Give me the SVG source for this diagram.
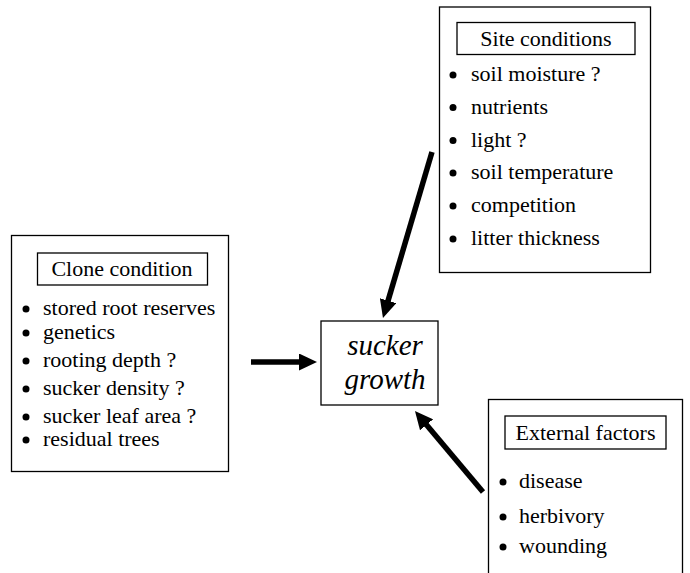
<svg xmlns="http://www.w3.org/2000/svg" width="690" height="573" viewBox="0 0 690 573">
<style>
.box{fill:#fff;stroke:#000;stroke-width:1.3}
.t{font-size:22px;fill:#000}
.it{font-size:29px;font-style:italic;fill:#000}
.b{fill:#000}
.arr{stroke:#000;stroke-width:5.5;fill:none;marker-end:url(#ah)}
</style>
<defs>
<marker id="ah" markerUnits="userSpaceOnUse" markerWidth="18" markerHeight="17" refX="8" refY="8.5" orient="auto">
<path d="M0,0 L18,8.5 L0,17 z" fill="#000"/>
</marker>
</defs>
<rect width="690" height="573" fill="#fff"/>
<g id="connectors">
<line class="arr" x1="251" y1="362" x2="307" y2="362"/>
<line class="arr" x1="432" y1="152" x2="385.8" y2="308.4"/>
<line class="arr" x1="483" y1="492" x2="421.4" y2="418.7"/>
</g>
<g font-family="Liberation Serif, Times New Roman, serif">
<g id="clone">
<rect class="box" x="11.5" y="235.5" width="217" height="236"/>
<rect class="box" x="37.5" y="253" width="170" height="32"/>
<text class="t" x="122" y="276" text-anchor="middle">Clone condition</text>
<circle class="b" cx="26" cy="309" r="3.5"/><text class="t" x="43" y="315">stored root reserves</text>
<circle class="b" cx="26" cy="333" r="3.5"/><text class="t" x="43" y="339">genetics</text>
<circle class="b" cx="26" cy="361" r="3.5"/><text class="t" x="43" y="367">rooting depth ?</text>
<circle class="b" cx="26" cy="389" r="3.5"/><text class="t" x="43" y="395">sucker density ?</text>
<circle class="b" cx="26" cy="417" r="3.5"/><text class="t" x="43" y="423">sucker leaf area ?</text>
<circle class="b" cx="26" cy="440" r="3.5"/><text class="t" x="43" y="446">residual trees</text>
</g>
<g id="site">
<rect class="box" x="439.5" y="7" width="211" height="265.5"/>
<rect class="box" x="457" y="22.5" width="178" height="32"/>
<text class="t" x="546" y="46" text-anchor="middle">Site conditions</text>
<circle class="b" cx="453" cy="75" r="3.5"/><text class="t" x="471" y="81">soil moisture ?</text>
<circle class="b" cx="453" cy="107.5" r="3.5"/><text class="t" x="471" y="113.5">nutrients</text>
<circle class="b" cx="453" cy="140.5" r="3.5"/><text class="t" x="471" y="146.5">light ?</text>
<circle class="b" cx="453" cy="173" r="3.5"/><text class="t" x="471" y="179">soil temperature</text>
<circle class="b" cx="453" cy="206" r="3.5"/><text class="t" x="471" y="212">competition</text>
<circle class="b" cx="453" cy="239" r="3.5"/><text class="t" x="471" y="245">litter thickness</text>
</g>
<g id="sucker">
<rect class="box" x="321" y="321" width="117" height="84"/>
<text class="it" x="385" y="355" text-anchor="middle">sucker</text>
<text class="it" x="385" y="389" text-anchor="middle">growth</text>
</g>
<g id="external">
<rect class="box" x="488.5" y="399.5" width="194" height="185"/>
<rect class="box" x="505" y="416" width="161" height="33"/>
<text class="t" x="585.5" y="440" text-anchor="middle">External factors</text>
<circle class="b" cx="503" cy="482" r="3.5"/><text class="t" x="519" y="488">disease</text>
<circle class="b" cx="503" cy="517" r="3.5"/><text class="t" x="519" y="523">herbivory</text>
<circle class="b" cx="503" cy="547" r="3.5"/><text class="t" x="519" y="553">wounding</text>
</g>
</g>
</svg>
